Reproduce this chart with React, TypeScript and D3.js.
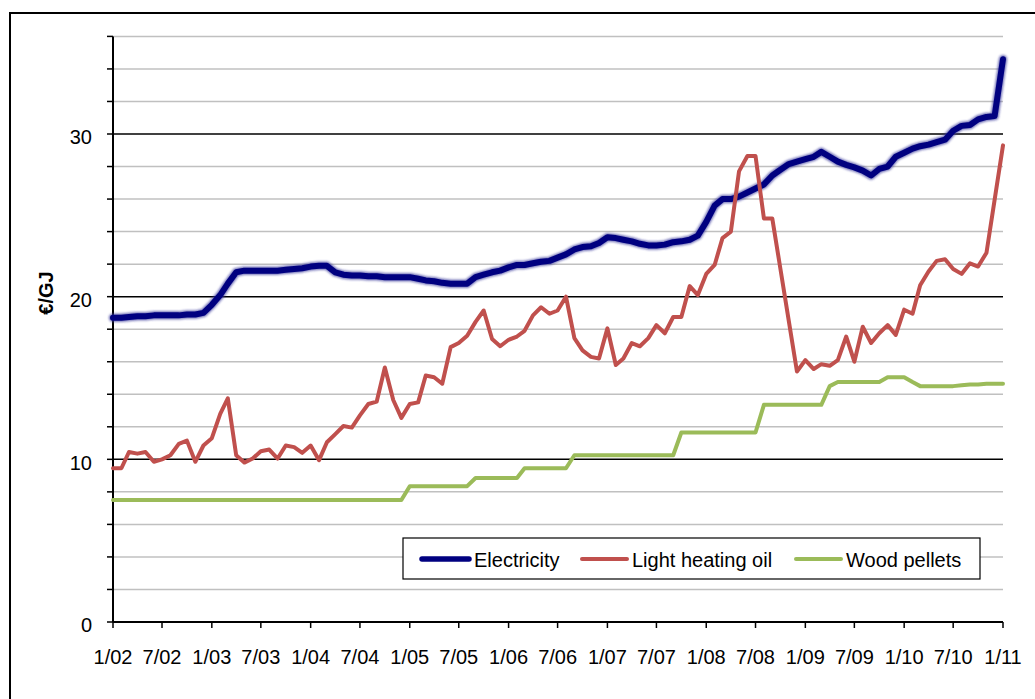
import React from "react";
import * as d3 from "d3";

const electricity = [
  18.7, 18.7, 18.75, 18.8, 18.8, 18.85, 18.85, 18.85, 18.85, 18.9, 18.9, 19.0,
  19.5, 20.1, 20.8, 21.5, 21.6, 21.6, 21.6, 21.6, 21.6, 21.65, 21.7, 21.75,
  21.85, 21.9, 21.9, 21.5, 21.35, 21.3, 21.3, 21.25, 21.25, 21.2, 21.2, 21.2,
  21.2, 21.1, 21.0, 20.95, 20.85, 20.8, 20.8, 20.8, 21.2, 21.35, 21.5, 21.6,
  21.8, 21.95, 21.95, 22.05, 22.15, 22.2, 22.4, 22.6, 22.9, 23.05, 23.1, 23.3,
  23.65, 23.6, 23.5, 23.4, 23.25, 23.15, 23.15, 23.2, 23.35, 23.4, 23.5, 23.75,
  24.6, 25.6, 26.0, 26.0, 26.15, 26.4, 26.65, 26.9, 27.45, 27.8, 28.15, 28.3,
  28.45, 28.6, 28.9, 28.6, 28.3, 28.1, 27.95, 27.75, 27.45, 27.85, 28.0, 28.6,
  28.85, 29.1, 29.25, 29.35, 29.5, 29.65, 30.2, 30.5, 30.55, 30.9, 31.05, 31.1,
  34.6,
];

const heatingOil = [
  9.45, 9.45, 10.45, 10.35, 10.45, 9.85, 10.0, 10.25, 10.95, 11.15, 9.85, 10.85,
  11.3, 12.8, 13.75, 10.25, 9.8, 10.05, 10.5, 10.6, 10.05, 10.85, 10.75, 10.4,
  10.85, 9.95, 11.05, 11.55, 12.05, 11.95, 12.7, 13.4, 13.55, 15.65, 13.65, 12.55,
  13.4, 13.5, 15.15, 15.05, 14.65, 16.9, 17.15, 17.6, 18.45, 19.15, 17.4, 16.95,
  17.35, 17.55, 17.9, 18.85, 19.35, 18.95, 19.15, 20.0, 17.45, 16.7, 16.3, 16.2,
  18.05, 15.8, 16.2, 17.15, 16.95, 17.45, 18.25, 17.75, 18.75, 18.75, 20.65, 20.1,
  21.4, 21.95, 23.6, 24.0, 27.7, 28.65, 28.65, 24.8, 24.8, 21.7, 18.5, 15.4,
  16.1, 15.55, 15.85, 15.75, 16.1, 17.55, 16.0, 18.15, 17.15, 17.75, 18.25, 17.65,
  19.2, 18.95, 20.7, 21.55, 22.2, 22.3, 21.7, 21.4, 22.05, 21.85, 22.7, 25.95,
  29.3,
];

const woodPellets = [
  7.5, 7.5, 7.5, 7.5, 7.5, 7.5, 7.5, 7.5, 7.5, 7.5, 7.5, 7.5,
  7.5, 7.5, 7.5, 7.5, 7.5, 7.5, 7.5, 7.5, 7.5, 7.5, 7.5, 7.5,
  7.5, 7.5, 7.5, 7.5, 7.5, 7.5, 7.5, 7.5, 7.5, 7.5, 7.5, 7.5,
  8.35, 8.35, 8.35, 8.35, 8.35, 8.35, 8.35, 8.35, 8.85, 8.85, 8.85, 8.85,
  8.85, 8.85, 9.45, 9.45, 9.45, 9.45, 9.45, 9.45, 10.25, 10.25, 10.25, 10.25,
  10.25, 10.25, 10.25, 10.25, 10.25, 10.25, 10.25, 10.25, 10.25, 11.65, 11.65, 11.65,
  11.65, 11.65, 11.65, 11.65, 11.65, 11.65, 11.65, 13.35, 13.35, 13.35, 13.35, 13.35,
  13.35, 13.35, 13.35, 14.5, 14.75, 14.75, 14.75, 14.75, 14.75, 14.75, 15.05, 15.05,
  15.05, 14.75, 14.5, 14.5, 14.5, 14.5, 14.5, 14.55, 14.6, 14.6, 14.65, 14.65,
  14.65,
];

const xTickLabels = [
  "1/02", "7/02", "1/03", "7/03", "1/04", "7/04", "1/05", "7/05", "1/06", "7/06",
  "1/07", "7/07", "1/08", "7/08", "1/09", "7/09", "1/10", "7/10", "1/11",
];
const yMajorTicks = [0, 10, 20, 30];
const yGridValues = [2, 4, 6, 8, 10, 12, 14, 16, 18, 20, 22, 24, 26, 28, 30, 32, 34, 36];

const seriesNames = ["Electricity", "Light heating oil", "Wood pellets"];
const seriesColors = ["#000080", "#C0504D", "#9BBB59"];

const W = 1035;
const H = 699;
const left = 113;
const right = 1003;
const top = 36.4;
const bottom = 622;
const FONT = "'Liberation Sans', Arial, sans-serif";

export default function App() {
  const start = new Date(2002, 0, 1);
  const end = new Date(2011, 0, 1);
  const dates = d3.timeMonths(start, new Date(2011, 0, 2));
  const x = d3.scaleTime().domain([start, end]).range([left, right]);
  const y = d3.scaleLinear().domain([0, 36]).range([bottom, top]);
  const tickDates = d3.timeMonths(start, new Date(2011, 0, 2), 6);

  const line = d3
    .line<number>()
    .x((_, i) => x(dates[i]))
    .y((d) => y(d));

  const series = [electricity, heatingOil, woodPellets];

  const legendX = 403;
  const legendY = 538;
  const legendItems = [
    { lx: 422, lw: 47, tx: 474 },
    { lx: 582, lw: 45, tx: 632 },
    { lx: 796, lw: 45, tx: 846 },
  ];

  return (
    <svg
      width={W}
      height={H}
      style={{ position: "absolute", left: 0, top: 0, background: "#fff" }}
      fontFamily={FONT}
    >
      <defs>
        <filter id="soft" x="-5%" y="-5%" width="110%" height="110%">
          <feGaussianBlur stdDeviation="0.9" />
        </filter>
      </defs>
      <rect x={10} y={13} width={W + 20} height={H + 20} fill="#fff" stroke="#000" strokeWidth={2} />

      {/* gridlines */}
      {yGridValues.map((v) => (
        <line
          key={"g" + v}
          x1={left}
          x2={right}
          y1={y(v)}
          y2={y(v)}
          stroke={v % 10 === 0 ? "#000" : "#c0c0c0"}
          strokeWidth={1.5}
        />
      ))}

      {/* y axis */}
      <line x1={left} x2={left} y1={top} y2={bottom} stroke="#000" strokeWidth={2} />
      {[0, ...yGridValues].map((v) => (
        <line key={"yt" + v} x1={left - 6} x2={left} y1={y(v)} y2={y(v)} stroke="#000" strokeWidth={1.5} />
      ))}
      {yMajorTicks.map((v) => (
        <text
          key={"yl" + v}
          x={92}
          y={y(v) + 3}
          dy="0.36em"
          textAnchor="end"
          fontSize={20}
          fill="#000"
        >
          {v}
        </text>
      ))}
      <text
        transform={`translate(53,${293}) rotate(-90)`}
        textAnchor="middle"
        fontSize={20}
        fontWeight="bold"
        fill="#000"
      >
        €/GJ
      </text>

      {/* x axis */}
      <line x1={left} x2={right} y1={bottom} y2={bottom} stroke="#000" strokeWidth={2} />
      {tickDates.map((d, i) => (
        <g key={"xt" + i}>
          <line x1={x(d)} x2={x(d)} y1={bottom} y2={bottom + 6} stroke="#000" strokeWidth={1.5} />
          <text x={x(d)} y={bottom + 35} dy="0.36em" textAnchor="middle" fontSize={20} fill="#000">
            {xTickLabels[i]}
          </text>
        </g>
      ))}

      {/* series */}
      <path
        d={line(electricity) || ""}
        fill="none"
        stroke="#3c3c9c"
        strokeOpacity={0.7}
        strokeWidth={8.5}
        strokeLinejoin="round"
        strokeLinecap="round"
        filter="url(#soft)"
      />
      <path
        d={line(electricity) || ""}
        fill="none"
        stroke={seriesColors[0]}
        strokeWidth={6}
        strokeLinejoin="round"
        strokeLinecap="round"
      />
      <path
        d={line(heatingOil) || ""}
        fill="none"
        stroke={seriesColors[1]}
        strokeWidth={4}
        strokeLinejoin="round"
        strokeLinecap="round"
      />
      <path
        d={line(woodPellets) || ""}
        fill="none"
        stroke={seriesColors[2]}
        strokeWidth={4}
        strokeLinejoin="round"
        strokeLinecap="round"
      />

      {/* legend */}
      <rect x={legendX} y={legendY} width={577} height={41} fill="#fff" stroke="#000" strokeWidth={1.2} />
      {series.map((_, i) => (
        <g key={"lg" + i}>
          <line
            x1={legendItems[i].lx}
            x2={legendItems[i].lx + legendItems[i].lw}
            y1={legendY + 21}
            y2={legendY + 21}
            stroke={seriesColors[i]}
            strokeWidth={i === 0 ? 5.5 : 4}
            strokeLinecap="round"
          />
          <text x={legendItems[i].tx} y={legendY + 22} dy="0.36em" fontSize={20} fill="#000">
            {seriesNames[i]}
          </text>
        </g>
      ))}
    </svg>
  );
}
